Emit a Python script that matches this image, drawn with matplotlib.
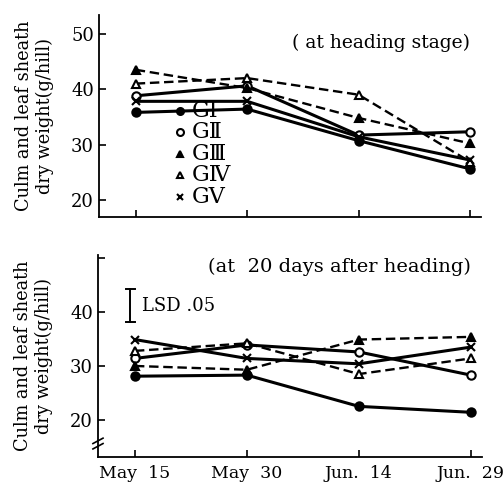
import matplotlib
matplotlib.use('Agg')
import matplotlib.pyplot as plt

dates = ['May  15', 'May  30', 'Jun.  14', 'Jun.  29']
groups = ['GⅠ', 'GⅡ', 'GⅢ', 'GⅣ', 'GⅤ']

# culm and leaf sheath dry weight (g/hill) at heading stage
heading = {
    'GⅠ': [35.8, 36.4, 30.7, 25.6],
    'GⅡ': [38.8, 40.6, 31.7, 32.3],
    'GⅢ': [43.5, 40.2, 34.8, 30.2],
    'GⅣ': [41.0, 42.0, 39.0, 26.9],
    'GⅤ': [37.8, 37.8, 31.4, 27.2],
}
# at 20 days after heading
after20 = {
    'GⅠ': [28.1, 28.3, 22.5, 21.4],
    'GⅡ': [31.4, 33.9, 32.6, 28.3],
    'GⅢ': [30.0, 29.3, 34.9, 35.4],
    'GⅣ': [32.8, 34.2, 28.5, 31.4],
    'GⅤ': [34.9, 31.4, 30.4, 33.5],
}
lsd_low, lsd_high = 38.2, 44.2

styles = {
    'GⅠ': dict(marker='o', mfc='black', ls='-', lw=2.2),
    'GⅡ': dict(marker='o', mfc='white', ls='-', lw=2.2),
    'GⅢ': dict(marker='^', mfc='black', ls=(0, (4, 2)), lw=1.7),
    'GⅣ': dict(marker='^', mfc='white', ls=(0, (4, 2)), lw=1.7),
    'GⅤ': dict(marker='x', mfc='black', ls='-', lw=2.2),
}

serif = ['DejaVu Serif', 'DejaVu Sans']
plt.rcParams['font.family'] = serif
plt.rcParams['font.size'] = 12

fig = plt.figure(figsize=(5.04, 4.88), dpi=100)
ax1 = fig.add_axes([0.1964, 0.5553, 0.758, 0.414])
ax2 = fig.add_axes([0.1944, 0.0635, 0.762, 0.414])

x = list(range(len(dates)))

def setup(ax):
    for s in ['top', 'right']:
        ax.spines[s].set_visible(False)
    ax.spines['left'].set_linewidth(1.3)
    ax.spines['bottom'].set_linewidth(1.3)
    ax.tick_params(direction='in', length=5, width=1.2, labelsize=13)
    ax.set_xlim(-0.33, 3.1)
    ax.set_xticks(x)
    ax.set_ylabel('Culm and leaf sheath\ndry weight(g/hill)', fontsize=12.8,
                  labelpad=12, linespacing=1.25)

for g in groups:
    st = styles[g]
    ax1.plot(x, heading[g], color='black', marker=st['marker'], mfc=st['mfc'],
             mec='black', ms=6, mew=1.5, ls=st['ls'], lw=st['lw'])
    ax2.plot(x, after20[g], color='black', marker=st['marker'], mfc=st['mfc'],
             mec='black', ms=6, mew=1.5, ls=st['ls'], lw=st['lw'])

setup(ax1)
ax1.set_ylim(16.9, 53.4)
ax1.set_yticks([20, 30, 40, 50])
ax1.set_xticklabels([])
ax1.text(3.0, 48.4, '( at heading stage)', ha='right', va='center', fontsize=13.5)

# legend drawn as marker + label rows
for i, g in enumerate(groups):
    st = styles[g]
    yy = 36.1 - i * 3.88
    ax1.plot([0.4], [yy], color='black', marker=st['marker'], mfc=st['mfc'],
             mec='black', ms=5, mew=1.5, ls='none')
    ax1.text(0.5, yy, g, ha='left', va='center', fontsize=16)

setup(ax2)
ax2.set_ylim(13.1, 50.6)
ax2.set_yticks([20, 30, 40, 50])
ax2.set_yticklabels(['20', '30', '40', ''])
ax2.set_xticklabels(dates, fontsize=12.5)
ax2.tick_params(axis='x', pad=6)
ax2.text(3.0, 48.3, '(at  20 days after heading)', ha='right', va='center',
         fontsize=14)

# LSD bar
ax2.plot([-0.04, -0.04], [lsd_low, lsd_high], color='black', lw=1.4)
ax2.plot([-0.08, 0.0], [lsd_low, lsd_low], color='black', lw=1.4)
ax2.plot([-0.08, 0.0], [lsd_high, lsd_high], color='black', lw=1.4)
ax2.text(0.06, (lsd_low + lsd_high) / 2, 'LSD .05', ha='left', va='center',
         fontsize=13)

# axis break mark on the left spine
for dy in [0.0, 1.0]:
    ax2.plot([-0.375, -0.285], [14.6 + dy, 15.6 + dy], color='black', lw=1.2,
             clip_on=False)

fig.savefig('out.png', dpi=100)
